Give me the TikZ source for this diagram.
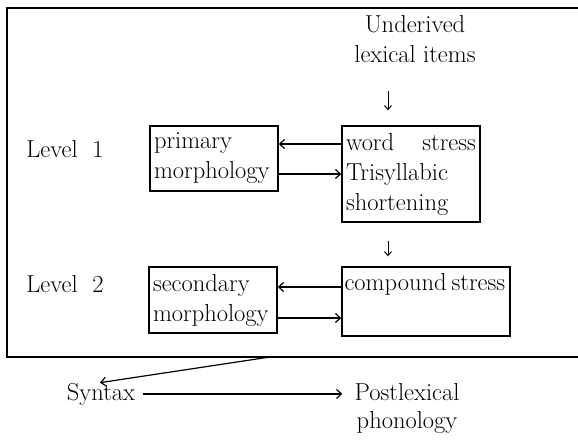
\documentclass[tikz,border=0pt]{standalone}
\usetikzlibrary{arrows.meta}
\begin{document}
\begin{tikzpicture}[x=1pt,y=-1pt,
  txt/.style={font=\fontsize{24.5}{30}\selectfont, inner sep=0pt},
  box/.style={draw, line width=1.4pt, font=\fontsize{24.5}{30}\selectfont, align=left, inner xsep=4pt, inner ysep=0pt},
  frame/.style={line width=1.8pt},
  arr/.style={line width=1.2pt, -{Straight Barb[length=5pt,width=9pt,line width=1.2pt]}},
  darr/.style={line width=1pt, -{Straight Barb[length=4pt,width=7pt,line width=1pt]}}]
\useasboundingbox (0,0) rectangle (578,439);
% outer frame
\draw[frame] (578,8) -- (7,8) -- (7,357) -- (578,357);
\coordinate (fb) at (270,357);
\coordinate (ax) at (388,0);
% texts
\node[txt, align=center] (under) at (415,39.5) {Underived\\lexical items};
\node[txt, anchor=base] (lv1) at (65,157) {Level\ \ 1};
\node[txt, anchor=base] (lv2) at (65,292) {Level\ \ 2};
% boxes
\node[box, text width=120pt, minimum height=65pt] (pm) at (214,158.5) {primary\\morphology};
\node[box, text width=130pt, minimum height=96pt] (ws) at (411,174) {word\hfill stress\\Trisyllabic\\shortening};
\node[box, inner xsep=2.5pt, text width=163pt, minimum height=69pt] (cs) at (426,301.5) {\mbox{compound\hspace{5pt}stress}\\\strut};
\node[box, text width=120pt, minimum height=66pt] (sm) at (213,300) {secondary\\morphology};
% bottom texts
\node[txt, anchor=base] (syn) at (101,400) {Syntax};
\node[txt, align=center, font=\fontsize{24.5}{28}\selectfont] (post) at (407,408) {Postlexical\\phonology};
% level 1 arrows
\path ([yshift=14.5pt]pm.east) coordinate (pa) ([yshift=-15.5pt]pm.east) coordinate (pb);
\draw[arr] (pa -| ws.west) -- (pa);
\draw[arr] (pb) -- (pb -| ws.west);
% level 2 arrows
\path ([yshift=13pt]sm.east) coordinate (sa) ([yshift=-18pt]sm.east) coordinate (sb);
\draw[arr] (sa -| cs.west) -- (sa);
\draw[arr] (sb) -- (sb -| cs.west);
% down arrows
\draw[darr, shorten <=28pt, shorten >=15pt] (under.south -| ax) -- (ws.north -| ax);
\draw[darr, shorten <=18pt, shorten >=10pt] (ws.south -| ax) -- (cs.north -| ax);
% bottom arrows
\draw[arr] (fb) -- ([xshift=-1pt]syn.north);
\draw[arr, shorten <=8pt, shorten >=12pt] (syn.east) -- (syn.east -| post.west);
\end{tikzpicture}
\end{document}
